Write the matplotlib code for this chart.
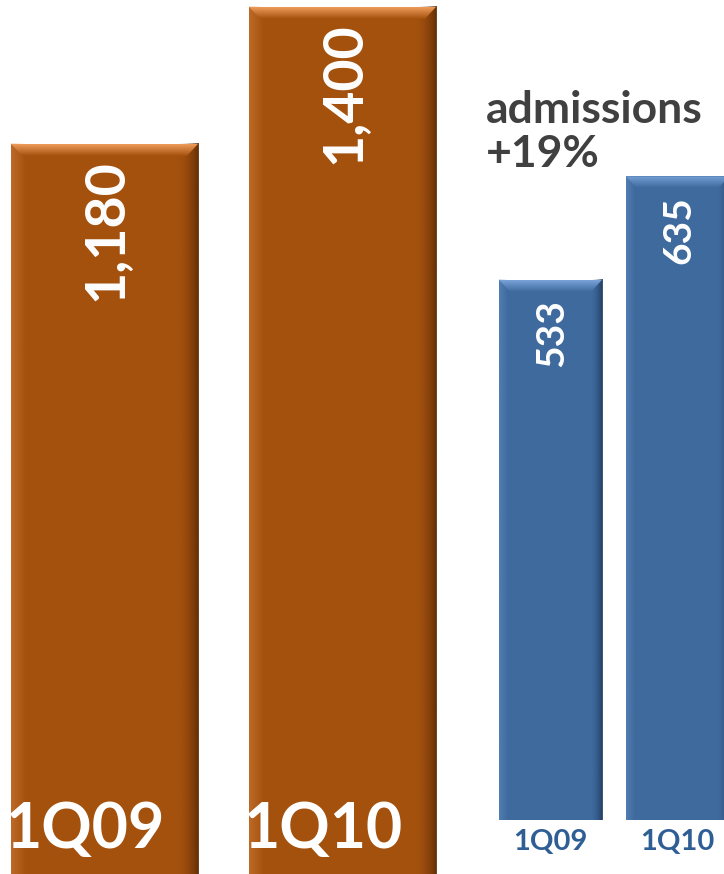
import matplotlib
matplotlib.use('Agg')
import matplotlib.pyplot as plt
import numpy as np
from matplotlib.patches import Polygon
from matplotlib.colors import to_rgb

plt.rcParams['font.family'] = ['Lato', 'DejaVu Sans']

# data
quarters = ['1Q09', '1Q10']
visits = [1180, 1400]        # orange group
admissions = [533, 635]      # blue group
caption = 'admissions\n+19%'

ORANGE = '#A4510E'
ORANGE_LIGHT = '#EE9B5A'
ORANGE_DARK = '#5A2A05'
BLUE = '#3E6A9E'
BLUE_LIGHT = '#78A2D8'
BLUE_DARK = '#1E3656'
BLUE_TEXT = '#2F5E95'


def px_to_data(ax, dx, dy):
    inv = ax.transData.inverted()
    p0 = inv.transform((0, 0))
    p1 = inv.transform((dx, dy))
    return abs(p1[0] - p0[0]), abs(p1[1] - p0[1])


def fancy_bar(ax, rect, base, light, dark):
    x0, y0 = rect.get_x(), rect.get_y()
    w, h = rect.get_width(), rect.get_height()
    top = y0 + h
    bx, by = px_to_data(ax, 11, 12)

    # right edge shade
    img = np.zeros((1, 60, 4))
    img[..., :3] = to_rgb(dark)
    img[0, :, 3] = np.linspace(0, 1, 60) ** 2 * 0.9
    ax.imshow(img, extent=(x0 + w * 0.88, x0 + w, y0, top), aspect='auto',
              interpolation='bilinear', zorder=3)
    # left edge light
    img2 = np.zeros((1, 60, 4))
    img2[..., :3] = to_rgb(light)
    img2[0, :, 3] = np.linspace(0.35, 0, 60)
    ax.imshow(img2, extent=(x0, x0 + w * 0.08, y0, top), aspect='auto',
              interpolation='bilinear', zorder=3)

    # top bevel
    poly = Polygon([(x0, top), (x0 + w, top), (x0 + w - bx, top - by), (x0 + bx, top - by)],
                   closed=True, transform=ax.transData, facecolor='none', edgecolor='none')
    ax.add_patch(poly)
    g = np.zeros((40, 1, 4))
    lc, bc = np.array(to_rgb(light)), np.array(to_rgb(base))
    t = np.linspace(0, 1, 40)[:, None]
    g[:, 0, :3] = lc * (1 - t) + bc * t
    g[..., 3] = 1
    im = ax.imshow(g, extent=(x0, x0 + w, top - by, top), aspect='auto',
                   interpolation='bilinear', zorder=4, origin='upper')
    im.set_clip_path(poly)


fig = plt.figure(figsize=(7.24, 8.74), dpi=100)

# orange group axes
ax1 = fig.add_axes([0, 0, 1, 1])
ax1.set_xlim(-0.439, 2.603)
ax1.set_ylim(7.7, 1411)
ax1.axis('off')
bars1 = ax1.bar(range(len(visits)), visits, width=0.786, color=ORANGE, zorder=2)

# blue group axes
ax2 = fig.add_axes([0, 0, 1, 1])
ax2.patch.set_alpha(0)
ax2.set_xlim(-4.267, 1.345)
ax2.set_ylim(-53.3, 809)
ax2.axis('off')
bars2 = ax2.bar([0, 0.985], admissions, width=0.8, color=BLUE, zorder=2)

for ax, bars, vals, base, light, dark, fs, off in [
        (ax1, bars1, visits, ORANGE, ORANGE_LIGHT, ORANGE_DARK, 40, -11),
        (ax2, bars2, admissions, BLUE, BLUE_LIGHT, BLUE_DARK, 28, -14)]:
    for rect, v in zip(bars, vals):
        fancy_bar(ax, rect, base, light, dark)
        ax.annotate(f'{v:,}', (rect.get_x() + rect.get_width() / 2, v),
                    xytext=(1, off), textcoords='offset points', rotation=90,
                    ha='center', va='top', color='white', fontsize=fs,
                    fontweight='bold', zorder=6)

# category labels
for rect, q in zip(bars1, quarters):
    ax1.text(rect.get_x() - 0.02, 50, q, ha='left', va='baseline', color='white',
             fontsize=45, fontweight='bold', zorder=6)
for rect, q in zip(bars2, quarters):
    ax2.text(rect.get_x() + rect.get_width() / 2, -22, q, ha='center', va='center',
             color=BLUE_TEXT, fontsize=21, fontweight='bold', zorder=6)

ax1.set_xlim(-0.439, 2.603)
ax1.set_ylim(7.7, 1411)
ax2.set_xlim(-4.267, 1.345)
ax2.set_ylim(-53.3, 809)

fig.text(486 / 724, 1 - 90 / 874, caption, ha='left', va='top', color='#404040',
         fontsize=32, fontweight='bold', linespacing=1.12)

fig.savefig('out.png', dpi=100)
